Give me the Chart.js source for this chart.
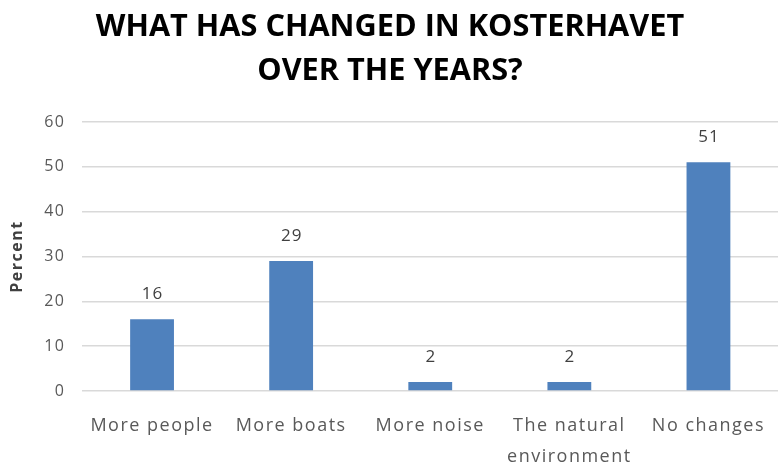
<!DOCTYPE html>
<html><head><meta charset="utf-8">
<script src="https://cdn.jsdelivr.net/npm/chart.js@4/dist/chart.umd.min.js"></script>
<style>html,body{margin:0;padding:0;background:#fff}#wrap{width:778px;height:465px}</style>
</head><body><div id="wrap"><canvas id="c" width="778" height="465"></canvas></div>
<script>
const categories = ['More people', 'More boats', 'More noise', ['The natural', 'environment'], 'No changes'];
const percentValues = [16, 29, 2, 2, 51];
const yTicks = [0, 10, 20, 30, 40, 50, 60];
const titleLines = ['WHAT HAS CHANGED IN KOSTERHAVET', 'OVER THE YEARS?'];
const yAxisTitle = 'Percent';

const spacing = {
  id: 'spacing',
  beforeLayout(chart) { chart.ctx.letterSpacing = '1.5px'; },
  beforeDraw(chart) { chart.ctx.letterSpacing = '1.5px'; }
};

const valueLabels = {
  id: 'valueLabels',
  afterDatasetsDraw(chart) {
    const ctx = chart.ctx;
    const meta = chart.getDatasetMeta(0);
    ctx.save();
    ctx.letterSpacing = '1px';
    ctx.font = '17px "Open Sans", sans-serif';
    ctx.fillStyle = '#404040';
    ctx.textAlign = 'center';
    ctx.textBaseline = 'middle';
    meta.data.forEach((bar, i) => {
      ctx.fillText(String(chart.data.datasets[0].data[i]), bar.x + 0.5, bar.y - 25);
    });
    ctx.restore();
  }
};

const titleDraw = {
  id: 'titleDraw',
  afterDraw(chart) {
    const ctx = chart.ctx;
    ctx.save();
    ctx.letterSpacing = '0px';
    ctx.font = 'bold 30.7px "Open Sans", sans-serif';
    ctx.fillStyle = '#000';
    ctx.textAlign = 'center';
    ctx.textBaseline = 'middle';
    ctx.fillText(titleLines[0], 390, 27);
    ctx.fillText(titleLines[1], 390, 71);
    ctx.restore();
  }
};

new Chart(document.getElementById('c'), {
  type: 'bar',
  data: {
    labels: categories,
    datasets: [{
      data: percentValues,
      backgroundColor: '#4f81bd',
      barPercentage: 0.315,
      categoryPercentage: 1
    }]
  },
  options: {
    responsive: false,
    animation: false,
    layout: { padding: { left: 0, right: 0, top: 122, bottom: 0 } },
    plugins: {
      legend: { display: false },
      tooltip: { enabled: false },
      title: { display: false }
    },
    scales: {
      x: {
        afterFit(scale) { scale.height = 74; scale.paddingLeft = 0; scale.paddingRight = 0; },
        grid: { display: false, drawTicks: false },
        border: { display: false },
        ticks: { color: '#595959', font: { family: '"Open Sans", sans-serif', size: 18, lineHeight: 1.7 }, padding: 20, maxRotation: 0, autoSkip: false }
      },
      y: {
        min: 0, max: 60,
        afterBuildTicks(axis) { axis.ticks = yTicks.map(v => ({ value: v })); },
        grid: { color: '#d9d9d9', lineWidth: 1.5, drawTicks: false },
        border: { display: false },
        ticks: { color: '#595959', font: { family: '"Open Sans", sans-serif', size: 16 }, padding: 17 },
        title: { display: true, text: yAxisTitle, color: '#404040', font: { family: '"Open Sans", sans-serif', size: 16, weight: 'bold' }, padding: { top: 8, bottom: 0 } }
      }
    }
  },
  plugins: [spacing, valueLabels, titleDraw]
});
</script></body></html>
